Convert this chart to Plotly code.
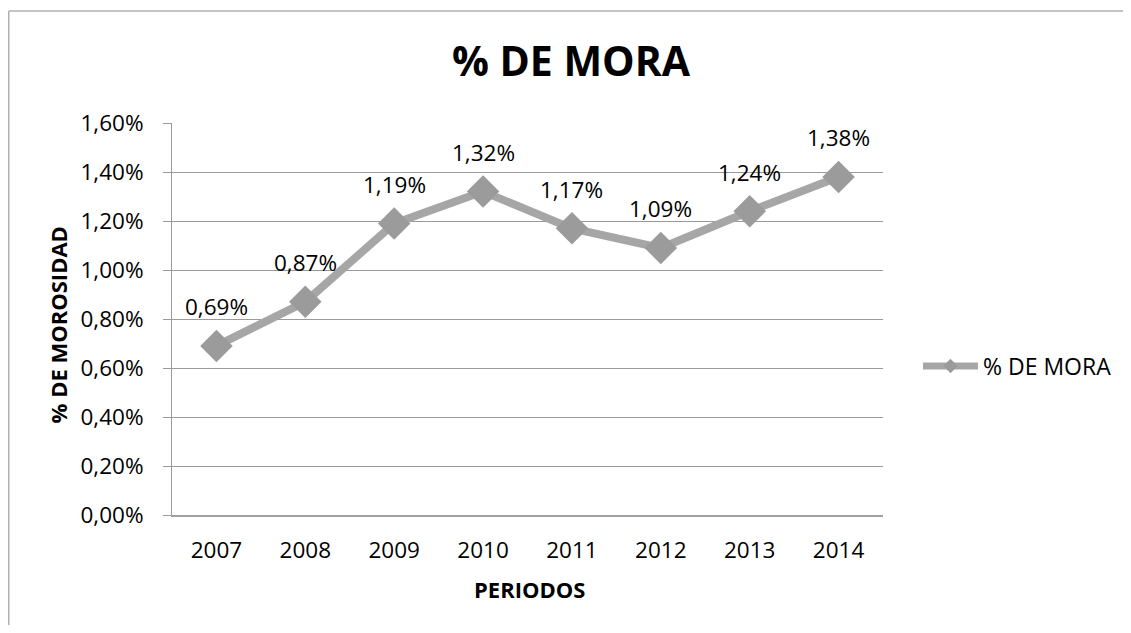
import plotly.graph_objects as go

years = ["2007", "2008", "2009", "2010", "2011", "2012", "2013", "2014"]
mora = [0.0069, 0.0087, 0.0119, 0.0132, 0.0117, 0.0109, 0.0124, 0.0138]
labels = ["0,69%", "0,87%", "1,19%", "1,32%", "1,17%", "1,09%", "1,24%", "1,38%"]
ytick_vals = [0.0, 0.002, 0.004, 0.006, 0.008, 0.010, 0.012, 0.014, 0.016]
ytick_text = ["0,00%", "0,20%", "0,40%", "0,60%", "0,80%", "1,00%", "1,20%", "1,40%", "1,60%"]

FONT = "Open Sans"
LINE_GRAY = "#A6A6A6"
MARK_GRAY = "#9B9B9B"
GRID = "#9A9A9A"

W, H = 1115, 617
L, R, T, B = 164, 240, 115, 110
PW, PH = W - L - R, H - T - B

xpos = list(range(len(years)))

fig = go.Figure()
fig.add_trace(go.Scatter(
    x=xpos, y=mora, mode="lines+markers", name="% DE MORA", showlegend=False,
    line=dict(color=LINE_GRAY, width=8),
    marker=dict(symbol="diamond", size=25, color=MARK_GRAY),
))
# legend entry (smaller symbol, like the reference legend)
fig.add_trace(go.Scatter(
    x=[None], y=[None], mode="lines+markers", name="% DE MORA",
    line=dict(color=LINE_GRAY, width=7),
    marker=dict(symbol="diamond", size=11, color=MARK_GRAY),
))

for x, y, t in zip(xpos, mora, labels):
    fig.add_annotation(x=x, y=y, xref="x", yref="y", text=t, showarrow=False, yshift=39,
                       xanchor="center", yanchor="middle",
                       font=dict(family=FONT, size=22.5, color="#000"))

fig.add_annotation(xref="paper", yref="paper", x=0.503, y=-0.190, text="<b>PERIODOS</b>",
                   xanchor="center", yanchor="middle",
                   showarrow=False, font=dict(family=FONT, size=22, color="#000"))
fig.add_annotation(xref="paper", yref="paper", x=-0.161, y=0.485, text="<b>% DE MOROSIDAD</b>",
                   xanchor="center", yanchor="middle",
                   textangle=-90, showarrow=False, font=dict(family=FONT, size=22, color="#000"))

# chart border (top and left visible), kept inside the figure
bx = (0.75 - L) / PW
by = 1 + (T - 3.0) / PH
fig.add_shape(type="line", xref="paper", yref="paper", x0=bx, x1=(W - L) / PW, y0=by, y1=by,
              line=dict(color="#B0B0B0", width=1.5))
fig.add_shape(type="line", xref="paper", yref="paper", x0=bx, x1=bx, y0=by, y1=-B / PH,
              line=dict(color="#B0B0B0", width=1.5))

fig.update_layout(
    width=W, height=H,
    margin=dict(l=L, r=R, t=T, b=B, autoexpand=False),
    paper_bgcolor="white", plot_bgcolor="white",
    title=dict(text="<b>% DE MORA</b>", x=(571 - 8) / W, xanchor="center",
               y=1 - 53.5 / H, yanchor="middle",
               font=dict(family=FONT, size=41, color="#000")),
    showlegend=True,
    legend=dict(x=1.0492, y=0.380, xanchor="left", yanchor="middle",
                font=dict(family=FONT, size=23, color="#000"), itemwidth=55),
    xaxis=dict(range=[-0.5, 7.5], tickvals=xpos, ticktext=years, showgrid=False,
               showline=True, linecolor="#A0A0A0", linewidth=1.5, zeroline=False,
               ticks="", tickfont=dict(family=FONT, size=22.5, color="#000"), ticklabelstandoff=14),
    yaxis=dict(range=[0, 0.016], tickvals=ytick_vals, ticktext=ytick_text,
               showgrid=True, gridcolor=GRID, gridwidth=1,
               showline=True, linecolor=GRID, linewidth=1,
               ticks="outside", ticklen=8, tickcolor=GRID,
               tickfont=dict(family=FONT, size=22.5, color="#000"), ticklabelstandoff=15,
               zeroline=False),
)

fig.write_html("out.html")
